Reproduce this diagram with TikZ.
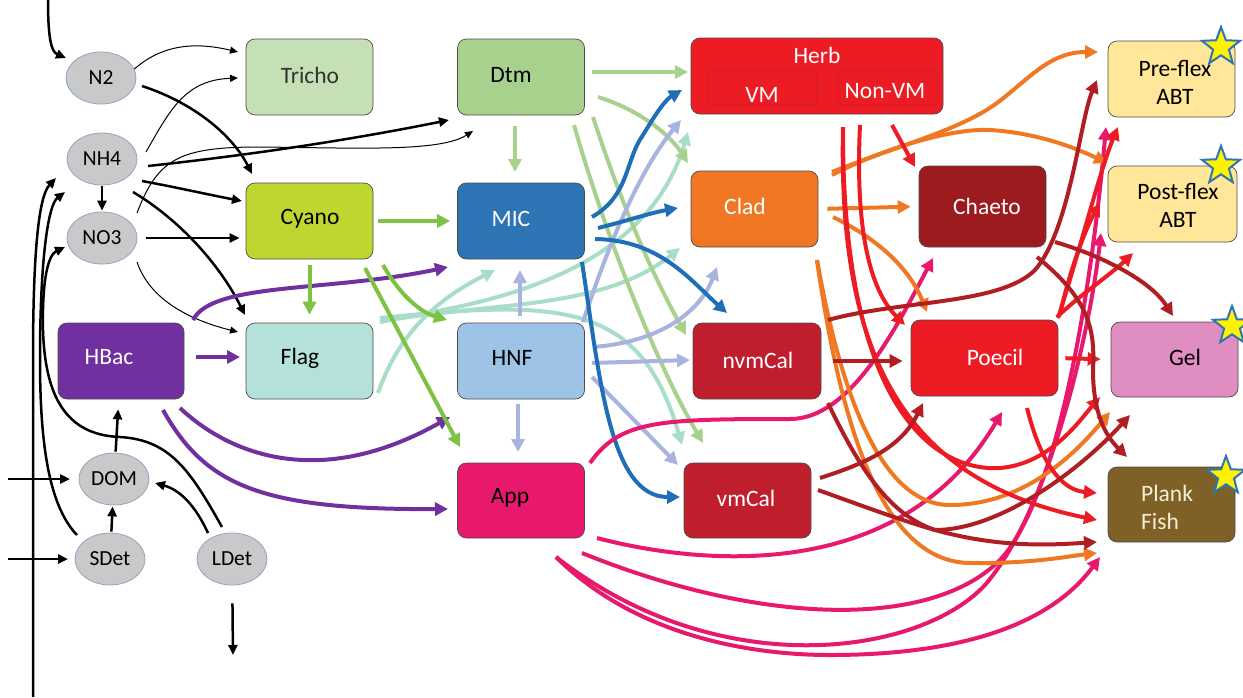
\documentclass[tikz,border=0pt]{standalone}
\usepackage{fontspec}
\setmainfont{Carlito}
\usetikzlibrary{arrows.meta,shapes.geometric}
\definecolor{ellF}{HTML}{C9C9C9}
\definecolor{ellD}{HTML}{8EA6C4}
\definecolor{trichoF}{HTML}{C5E0B4}
\definecolor{dtmF}{HTML}{A9D18E}
\definecolor{cyanoF}{HTML}{BFD630}
\definecolor{flagF}{HTML}{B4E2DA}
\definecolor{hbacF}{HTML}{7030A0}
\definecolor{micF}{HTML}{2E75B6}
\definecolor{hnfF}{HTML}{9DC3E6}
\definecolor{appF}{HTML}{E8196C}
\definecolor{herbF}{HTML}{ED1C24}
\definecolor{cladF}{HTML}{F07623}
\definecolor{calF}{HTML}{BF1E2D}
\definecolor{chaetoF}{HTML}{9B1B1F}
\definecolor{abtF}{HTML}{FFE699}
\definecolor{gelF}{HTML}{E08DC1}
\definecolor{plankF}{HTML}{7F6027}
\definecolor{plankT}{HTML}{F4EFD8}
\definecolor{starY}{HTML}{FFF200}
\definecolor{starB}{HTML}{2E75B6}
\definecolor{cG}{HTML}{7DC243}
\definecolor{cLG}{HTML}{A9D18E}
\definecolor{cTL}{HTML}{A8DDC9}
\definecolor{cPU}{HTML}{7030A0}
\definecolor{cBL}{HTML}{1F6FB8}
\definecolor{cLV}{HTML}{A8B3E0}
\definecolor{cPK}{HTML}{E8196C}
\definecolor{cOR}{HTML}{F07823}
\definecolor{cRD}{HTML}{ED1C24}
\definecolor{cDR}{HTML}{B01E24}
\tikzset{
  box/.style={draw=black!70, line width=0.7pt, rounded corners=9pt, minimum width=127pt, minimum height=76pt, inner sep=0pt},
  ell/.style={ellipse, draw=ellD, fill=ellF, line width=0.8pt, minimum width=70pt, minimum height=52pt, inner sep=0pt, font=\fontsize{21.5}{25}\selectfont},
  lbl/.style={font=\fontsize{23.5}{27}\selectfont, inner sep=0pt},
  starn/.style={star, star points=5, star point ratio=2.4, fill=starY, draw=starB, line width=2pt, minimum size=40pt, inner sep=0pt},
  colarrow/.style={line width=4pt, -{Triangle[length=13pt,width=13pt]}},
  thickblk/.style={line width=2.5pt, -{Triangle[length=10pt,width=9pt]}},
  thinblk/.style={line width=1pt, -{Triangle[length=8pt,width=7pt]}},
}
\begin{document}
\begin{tikzpicture}[x=1pt,y=-1pt]
\useasboundingbox (0,0) rectangle (1243,697);
% ---------- ellipses
\node[ell] (n2) at (101,78) {N2};
\node[ell] (nh4) at (102,159) {NH4};
\node[ell] (no3) at (102,238) {NO3};
\node[ell] (dom) at (114,479) {DOM};
\node[ell] (sdet) at (110,559) {SDet};
\node[ell] (ldet) at (232,559) {LDet};
% ---------- boxes
\node[box, fill=trichoF] (tricho) at (309.5,77) {};
\node[box, fill=cyanoF] (cyano) at (309.5,221) {};
\node[box, fill=flagF] (flag) at (309.5,361) {};
\node[box, fill=hbacF, minimum width=126pt] (hbac) at (121,361) {};
\node[box, fill=dtmF] (dtm) at (521,77) {};
\node[box, fill=micF] (mic) at (521,221) {};
\node[box, fill=hnfF] (hnf) at (521,361) {};
\node[box, fill=appF, minimum height=75pt] (app) at (521,500.5) {};
\node[box, fill=herbF, minimum width=252pt] (herb) at (817,76) {};
\node[draw=calF, line width=0.6pt, rounded corners=6pt, fill=herbF, minimum width=109pt, minimum height=35pt, inner sep=0pt] (vm) at (762.5,87.5) {};
\node[draw=calF, line width=0.6pt, rounded corners=6pt, fill=herbF, minimum width=100pt, minimum height=35pt, inner sep=0pt] (nonvm) at (888,87.5) {};
\node[box, fill=cladF] (clad) at (754.5,209) {};
\node[box, fill=calF, minimum width=128pt] (nvmcal) at (757,361) {};
\node[box, fill=calF, minimum height=75pt] (vmcal) at (747.5,500.5) {};
\node[box, fill=chaetoF, minimum height=81pt] (chaeto) at (982.5,206.5) {};
\node[box, fill=herbF, minimum width=147pt] (poecil) at (984.5,358) {};
\node[box, fill=abtF] (preflex) at (1171.5,79) {};
\node[box, fill=abtF, minimum width=129pt] (postflex) at (1172.5,204) {};
\node[box, fill=gelF, minimum height=75pt] (gel) at (1174.5,359.5) {};
\node[box, fill=plankF, minimum height=75pt] (plank) at (1171.5,504.5) {};
% ---------- labels
\node[lbl, text=black!80] (tricho-t) at (310,75) {Tricho};
\node[lbl] (cyano-t) at (310,219) {Cyano};
\node[lbl] (flag-t) at (300,358) {Flag};
\node[lbl, text=white] (hbac-t) at (109,357) {HBac};
\node[lbl] (dtm-t) at (511,75) {Dtm};
\node[lbl, text=white] (mic-t) at (511,219) {MIC};
\node[lbl] (hnf-t) at (512,358) {HNF};
\node[lbl] (app-t) at (510,498) {App};
\node[lbl, text=white] (herb-t) at (817,55) {Herb};
\node[lbl, text=white] (vm-t) at (762,95) {VM};
\node[lbl, text=white] (nonvm-t) at (885,91) {Non-VM};
\node[lbl, text=white] (clad-t) at (745,206) {Clad};
\node[lbl, text=white] (nvmcal-t) at (758,360) {nvmCal};
\node[lbl, text=white] (vmcal-t) at (746,498) {vmCal};
\node[lbl, text=white] (chaeto-t) at (987,206) {Chaeto};
\node[lbl, text=white] (poecil-t) at (995,357) {Poecil};
\node[lbl, align=center] (preflex-t) at (1175,82) {Pre-flex\\[1pt]ABT};
\node[lbl, align=center] (postflex-t) at (1178,205) {Post-flex\\[1pt]ABT};
\node[lbl] (gel-t) at (1185,357) {Gel};
\node[lbl, text=plankT, align=left, anchor=west] (plank-t) at (1141,507) {Plank\\[1pt]Fish};
% ---------- stars
\node[starn] (st1) at (1221,47) {};
\node[starn] (st2) at (1221,166) {};
\node[starn] (st3) at (1232,326) {};
\node[starn] (st4) at (1226,476) {};
% ---------- black connectors
\coordinate (topin) at (48,0);
\coordinate (botin) at (33,697);
\coordinate (domin) at (8,479);
\coordinate (sdetin) at (8,559);
\coordinate (ldetout) at (233,655);
\draw[thickblk] (topin) .. controls (48,42) and (52,52) .. (66,58);
\draw[thinblk] (n2.15) .. controls (165,42) and (200,43) .. (238,52);
\draw[thickblk] (142,86) .. controls (200,105) and (235,140) .. (252,174);
\draw[thinblk] (146,152) .. controls (170,110) and (185,80) .. (238,78);
\draw[thickblk] (148,166) .. controls (250,155) and (350,140) .. (449,120);
\draw[thinblk] (137,213) .. controls (158,158) and (180,147) .. (260,147) .. controls (360,148) and (440,152) .. (473,131);
\draw[thickblk] (142,181) .. controls (180,188) and (210,195) .. (242,201);
\draw[thickblk] (133,192) .. controls (180,220) and (220,265) .. (245,315);
\draw[thickblk, shorten <=1pt, shorten >=1pt] (nh4) -- (no3);
\draw[thickblk, shorten <=9pt, shorten >=6pt] (no3.east) -- (no3.east -| cyano.west);
\draw[thinblk] (137,262) .. controls (150,300) and (190,320) .. (238,332);
\draw[thickblk] (botin) -- (33,360) .. controls (33,240) and (40,195) .. (56,178);
\draw[thickblk] (77,535) .. controls (48,505) and (40,440) .. (40,360) .. controls (40,260) and (48,205) .. (65,192);
\draw[thickblk] (222,527) .. controls (190,470) and (170,440) .. (120,437) .. controls (65,435) and (45,395) .. (43,330) .. controls (42,280) and (48,255) .. (65,247);
\draw[thickblk, shorten <=1pt, shorten >=10pt] (dom) -- (hbac);
\draw[thickblk, shorten <=1pt, shorten >=1pt] (sdet) -- (dom);
\draw[thickblk] (208,533) .. controls (195,505) and (180,490) .. (155,483);
\draw[thickblk] (domin) -- (70,479);
\draw[thickblk] (sdetin) -- (68,559);
\draw[thickblk, shorten <=18pt] (ldet) -- (ldetout);
% ---------- purple
\draw[colarrow, cPU] (196,357) -- (240,357);
\draw[colarrow, cPU] (193,320) .. controls (212,282) and (330,292) .. (448,267);
\draw[colarrow, cPU] (180,408) .. controls (230,455) and (320,490) .. (450,417);
\draw[colarrow, cPU] (163,410) .. controls (205,485) and (260,510) .. (448,509);
% ---------- teal (Flag)
\draw[colarrow, cTL] (378,393) .. controls (400,330) and (440,298) .. (495,270);
\draw[colarrow, cTL] (380,322) .. controls (480,302) and (600,312) .. (680,248);
\draw[colarrow, cTL] (380,320) .. controls (520,302) and (650,260) .. (688,132);
\draw[colarrow, cTL] (380,318) .. controls (560,300) and (640,300) .. (682,445);
% ---------- green (Cyano)
\draw[colarrow, cG, shorten <=5pt, shorten >=7pt] (cyano.east) -- (mic.west);
\draw[colarrow, cG, shorten <=6pt, shorten >=8pt] (cyano.south) -- (flag.north);
\draw[colarrow, cG] (383,265) .. controls (400,295) and (420,312) .. (447,320);
\draw[colarrow, cG] (365,268) -- (460,447);
% ---------- light green (Dtm)
\draw[colarrow, cLG] (592,72) -- (688,72);
\draw[colarrow, cLG] (598,97) .. controls (640,110) and (670,135) .. (688,163);
\draw[colarrow, cLG] (515,126) -- (515,172);
\draw[colarrow, cLG] (593,117) .. controls (620,200) and (650,270) .. (686,335);
\draw[colarrow, cLG] (574,125) .. controls (610,250) and (660,370) .. (703,443);
% ---------- lavender (HNF)
\draw[colarrow, cLV] (520,316) -- (520,270);
\draw[colarrow, cLV] (518,404) -- (518,452);
\draw[colarrow, cLV] (583,322) .. controls (610,240) and (640,170) .. (681,120);
\draw[colarrow, cLV] (593,347) .. controls (660,342) and (700,312) .. (717,267);
\draw[colarrow, cLV] (592,363) -- (690,360);
\draw[colarrow, cLV] (592,377) -- (678,465);
% ---------- blue (MIC)
\draw[colarrow, cBL] (592,217) .. controls (630,195) and (625,160) .. (643,135) .. controls (655,115) and (665,100) .. (682,90);
\draw[colarrow, cBL] (598,228) .. controls (630,220) and (650,213) .. (678,208);
\draw[colarrow, cBL] (595,239) .. controls (660,240) and (690,280) .. (727,313);
\draw[colarrow, cBL] (582,262) .. controls (600,380) and (610,497) .. (680,497);
% ---------- pink (App)
\draw[colarrow, cPK] (590,463) .. controls (620,420) and (660,419) .. (790,419) .. controls (850,419) and (895,330) .. (933,258);
\draw[colarrow, cPK] (597,538) .. controls (700,565) and (900,585) .. (1002,412);
\draw[colarrow, cPK] (582,553) .. controls (760,625) and (930,630) .. (1000,560) .. controls (1065,490) and (1095,250) .. (1106,127);
\draw[colarrow, cPK] (556,557) .. controls (720,685) and (920,655) .. (985,585) .. controls (1050,510) and (1090,330) .. (1101,233);
\draw[colarrow, cPK] (556,557) .. controls (640,640) and (760,655) .. (830,655) .. controls (960,655) and (1050,625) .. (1100,557);
% ---------- orange (Clad)
\draw[colarrow, cOR, shorten <=9pt, shorten >=8pt] (clad.east) -- (chaeto.west);
\draw[colarrow, cOR] (832,172) .. controls (900,145) and (960,130) .. (997,103) .. controls (1030,78) and (1050,52) .. (1098,52);
\draw[colarrow, cOR] (832,175) .. controls (880,150) and (950,128) .. (990,130) .. controls (1040,133) and (1080,150) .. (1107,163);
\draw[colarrow, cOR] (833,217) .. controls (880,240) and (910,270) .. (927,312);
\draw[colarrow, cOR] (817,260) .. controls (840,390) and (880,505) .. (950,505) .. controls (1020,505) and (1070,460) .. (1110,412);
\draw[colarrow, cOR] (817,260) .. controls (840,420) and (880,562) .. (970,563) .. controls (1030,564) and (1070,556) .. (1097,553);
% ---------- red (Herb, Poecil)
\draw[colarrow, cRD] (892,125) -- (915,167);
\draw[colarrow, cRD] (860,125) .. controls (855,230) and (870,290) .. (905,325);
\draw[colarrow, cRD] (843,127) .. controls (838,350) and (900,480) .. (1097,520);
\draw[colarrow, cRD] (843,127) .. controls (842,400) and (930,472) .. (1000,468) .. controls (1050,464) and (1080,420) .. (1100,397);
\draw[colarrow, cRD, shorten <=7pt, shorten >=10pt] (poecil.east) -- (gel.west);
\draw[colarrow, cRD] (1027,408) .. controls (1040,460) and (1060,490) .. (1097,493);
\draw[colarrow, cRD] (1058,318) .. controls (1080,250) and (1100,170) .. (1118,127);
\draw[colarrow, cRD] (1061,310) .. controls (1070,270) and (1085,230) .. (1100,203);
\draw[colarrow, cRD] (1057,317) .. controls (1080,295) and (1110,275) .. (1133,253);
% ---------- dark red (nvmCal, vmCal, Chaeto)
\draw[colarrow, cDR, shorten <=12pt, shorten >=8pt] (nvmcal.east) -- (poecil.west |- nvmcal.east);
\draw[colarrow, cDR] (828,320) .. controls (900,300) and (1000,305) .. (1035,270) .. controls (1070,230) and (1080,120) .. (1097,80);
\draw[colarrow, cDR] (828,403) .. controls (860,470) and (890,515) .. (935,530) .. controls (1000,548) and (1050,545) .. (1097,542);
\draw[colarrow, cDR] (820,478) .. controls (860,465) and (900,450) .. (923,403);
\draw[colarrow, cDR] (818,490) .. controls (860,505) and (900,520) .. (935,530) .. controls (1000,530) and (1080,470) .. (1130,415);
\draw[colarrow, cDR] (1055,242) .. controls (1100,255) and (1150,280) .. (1173,316);
\draw[colarrow, cDR] (1037,257) .. controls (1090,300) and (1095,330) .. (1093,370) .. controls (1093,420) and (1110,440) .. (1127,457);
\end{tikzpicture}
\end{document}
